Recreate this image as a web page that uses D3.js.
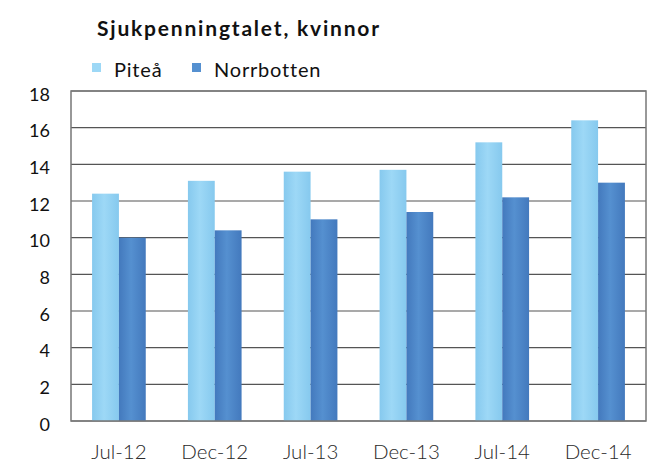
<!DOCTYPE html>
<html>
<head>
<meta charset="utf-8">
<script src="https://cdn.jsdelivr.net/npm/d3@7"></script>
<style>
  body { margin: 0; background: #fff; }
  text { font-family: Lato, "Open Sans", sans-serif; fill: #111; }
</style>
</head>
<body>
<script>
const width = 656;
const height = 465;

const categories = ["Jul-12", "Dec-12", "Jul-13", "Dec-13", "Jul-14", "Dec-14"];
const seriesNames = ["Piteå", "Norrbotten"];
const pitea = [12.4, 13.1, 13.6, 13.7, 15.2, 16.4];
const norrbotten = [10.0, 10.4, 11.0, 11.4, 12.2, 13.0];
const yTicks = [0, 2, 4, 6, 8, 10, 12, 14, 16, 18];

const colors = {"Piteå": ["#86c9ee", "#9dd8f6"], "Norrbotten": ["#4379bd", "#5590d0"]};

const margin = {top: 91, right: 10, bottom: 44, left: 71};

const svg = d3.select("body").append("svg")
  .attr("width", width)
  .attr("height", height);

// gradients for the bars
const defs = svg.append("defs");
seriesNames.forEach(function(s, i) {
  const g = defs.append("linearGradient")
    .attr("id", "grad" + i)
    .attr("x1", "0%").attr("x2", "100%").attr("y1", "0%").attr("y2", "0%");
  g.append("stop").attr("offset", "0%").attr("stop-color", colors[s][0]);
  g.append("stop").attr("offset", "45%").attr("stop-color", colors[s][1]);
  g.append("stop").attr("offset", "100%").attr("stop-color", colors[s][0]);
});

const x = d3.scaleBand()
  .domain(categories)
  .range([margin.left, width - margin.right])
  .paddingInner(0.44)
  .paddingOuter(0.22);

const xs = d3.scaleBand()
  .domain(seriesNames)
  .range([0, x.bandwidth()]);

const y = d3.scaleLinear()
  .domain([0, 18])
  .range([height - margin.bottom, margin.top]);

// gridlines
svg.append("g")
  .selectAll("line")
  .data(yTicks)
  .enter().append("line")
  .attr("x1", margin.left)
  .attr("x2", width - margin.right)
  .attr("y1", function(d) { return y(d); })
  .attr("y2", function(d) { return y(d); })
  .attr("stroke", "#555")
  .attr("stroke-width", 1.2);

// bars
const data = categories.map(function(c, i) {
  return {cat: c, values: [{s: "Piteå", v: pitea[i]}, {s: "Norrbotten", v: norrbotten[i]}]};
});

svg.append("g")
  .selectAll("g")
  .data(data)
  .enter().append("g")
  .attr("transform", function(d) { return "translate(" + x(d.cat) + ",0)"; })
  .selectAll("rect")
  .data(function(d) { return d.values; })
  .enter().append("rect")
  .attr("x", function(d) { return xs(d.s); })
  .attr("width", xs.bandwidth())
  .attr("y", function(d) { return y(d.v); })
  .attr("height", function(d) { return y(0) - y(d.v); })
  .attr("fill", function(d) { return "url(#grad" + seriesNames.indexOf(d.s) + ")"; });

// plot border
svg.append("rect")
  .attr("x", margin.left)
  .attr("y", margin.top)
  .attr("width", width - margin.left - margin.right)
  .attr("height", height - margin.top - margin.bottom)
  .attr("fill", "none")
  .attr("stroke", "#777")
  .attr("stroke-width", 1.5);

// y axis
const yAxis = svg.append("g")
  .attr("transform", "translate(" + (margin.left - 21) + ",3)")
  .call(d3.axisLeft(y).tickValues(yTicks).tickSize(0).tickPadding(0));
yAxis.select(".domain").remove();
yAxis.selectAll("text")
  .style("font-size", "18px")
  .attr("dy", "0.35em");

// x axis
const xAxis = svg.append("g")
  .attr("transform", "translate(0," + (height - margin.bottom) + ")")
  .call(d3.axisBottom(x).tickSize(0).tickPadding(0));
xAxis.select(".domain").remove();
xAxis.selectAll("text")
  .attr("dy", null)
  .attr("y", 38)
  .style("font-size", "20.5px")
  .style("font-weight", "300")
  .style("fill", "#2a2a2a");

// title
svg.append("text")
  .attr("x", 97)
  .attr("y", 36)
  .style("font-size", "21px")
  .style("font-weight", "bold")
  .style("letter-spacing", "1.8px")
  .text("Sjukpenningtalet, kvinnor");

// legend
const legendX = [92, 192];
const legend = svg.append("g")
  .selectAll("g")
  .data(seriesNames)
  .enter().append("g")
  .attr("transform", function(d, i) { return "translate(" + legendX[i] + ",63)"; });

legend.append("rect")
  .attr("width", 9)
  .attr("height", 9)
  .attr("fill", function(d) { return colors[d][1]; });

legend.append("text")
  .attr("x", 22)
  .attr("y", 14)
  .style("font-size", "20px")
  .style("letter-spacing", "0.8px")
  .text(function(d) { return d; });
</script>
</body>
</html>
